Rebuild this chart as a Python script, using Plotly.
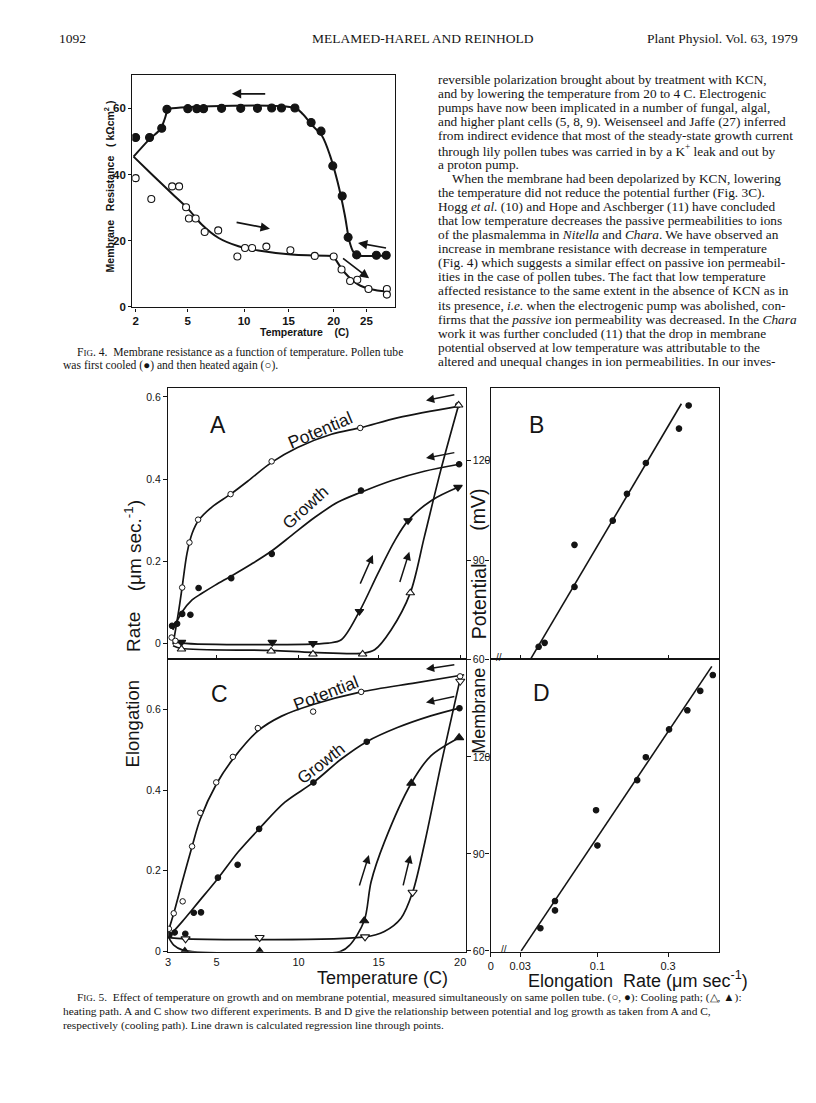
import numpy as np
import plotly.graph_objects as go

W, H = 816, 1103
INK = "#141414"
SERIF = "Liberation Serif, Times New Roman, serif"
SANS = "Liberation Sans, Arial, sans-serif"

# ---------------- Fig. 4 : membrane resistance vs temperature ----------------
F4_TICK_T = [2, 5, 10, 15, 20, 25]
F4_TICK_TEXT = ["2", "5", "10", "15", "20", "25"]
# temperature axis of the original is non-linear: scale anchors (axis definition)
F4_SCALE_T = [1, 2, 5, 10, 15, 20, 25, 30]
F4_SCALE_POS = [115.9, 133.3, 185.7, 242.3, 287.0, 332.3, 365.3, 398.3]

F4_COOL_T = [2.0, 2.8, 3.5, 3.8, 5.0, 5.8, 6.4, 8.0, 9.7, 11.5, 13.1, 14.2, 15.7,
             17.5, 18.6, 19.9, 21.3, 22.2, 23.5, 26.5, 28.0]
F4_COOL_R = [51.2, 51.2, 54.0, 59.7, 59.9, 59.9, 59.9, 60.0, 60.0, 60.0, 60.1, 60.1, 60.1,
             55.7, 53.1, 42.6, 33.5, 21.0, 15.7, 15.6, 15.6]
F4_HEAT_T = [2.0, 2.9, 4.1, 4.5, 4.9, 5.1, 5.7, 6.5, 7.7, 9.4, 10.1, 10.9, 12.5, 15.2,
             17.9, 20.0, 21.2, 22.5, 23.6, 25.3, 28.1, 28.1]
F4_HEAT_R = [38.9, 32.6, 36.4, 36.4, 30.1, 26.7, 26.7, 22.6, 23.1, 15.2, 17.8, 17.8, 18.2, 17.1,
             15.4, 15.2, 11.3, 7.8, 8.2, 5.4, 5.4, 3.7]
F4_COOL_CURVE_T = [1.88, 2.8, 3.43, 3.68, 3.87, 4.1, 15.7, 16.6, 17.5, 18.7, 19.6, 20.6, 21.7,
                   22.4, 23.0, 23.7, 28.1]
F4_COOL_CURVE_R = [45.4, 50.7, 53.7, 56.9, 59.7, 60.0, 60.1, 58.2, 55.2, 51.7, 45.7, 37.7, 27.7,
                   19.8, 16.6, 15.6, 15.5]
F4_HEAT_CURVE1_T = [1.88, 3.0, 4.1, 5.0, 6.26, 7.74, 9.5, 11.6, 15.3, 20.0]
F4_HEAT_CURVE1_R = [45.4, 39.7, 34.2, 29.7, 24.8, 20.8, 18.3, 17.0, 15.8, 15.4]
F4_HEAT_CURVE2_T = [20.15, 21.7, 23.7, 25.7, 28.1]
F4_HEAT_CURVE2_R = [14.8, 10.3, 6.8, 5.3, 4.6]
# arrows (tail T, tail R, head T, head R)
F4_ARROWS = [(12.54, 64.4, 8.91, 64.4), (9.2, 25.6, 12.9, 23.6),
             (28.2, 17.7, 23.7, 19.3), (21.2, 15.0, 25.4, 8.6)]

# ---------------- Fig. 5 ----------------
F5_TICK_T = [3, 5, 10, 15, 20]
F5_TICK_TEXT = ["3", "5", "10", "15", "20"]
F5_SCALE_T = [2, 3, 5, 10, 15, 20, 22]
F5_SCALE_POS = [141.75, 166.0, 214.5, 297.0, 377.5, 459.5, 492.3]

# Panel A
A_POT_COOL_T = [3.14, 3.30, 3.58, 3.88, 4.24, 5.86, 8.36, 13.85, 19.87]
A_POT_COOL_MV = [66.6, 65.6, 81.7, 95.3, 102.2, 109.9, 119.8, 129.9, 136.8]
A_POT_COOL_CURVE_T = [3.2, 3.44, 3.58, 3.78, 3.99, 4.26, 4.81, 5.86, 6.95, 8.36, 9.94, 12.05,
                      13.9, 16.2, 19.94]
A_POT_COOL_CURVE_MV = [64.5, 74.9, 81.9, 92.0, 98.0, 102.0, 106.0, 109.9, 114.0, 119.5, 124.0,
                       128.0, 130.0, 133.0, 136.5]
A_GRO_COOL_T = [3.16, 3.37, 3.58, 3.92, 4.26, 5.90, 8.37, 13.90, 19.93]
A_GRO_COOL_R = [0.043, 0.048, 0.072, 0.070, 0.135, 0.159, 0.218, 0.372, 0.436]
A_GRO_COOL_CURVE_T = [3.19, 3.58, 3.99, 4.40, 4.95, 5.94, 7.16, 8.36, 9.58, 11.02, 12.47, 13.9,
                      15.77, 17.8, 19.94]
A_GRO_COOL_CURVE_R = [0.033, 0.077, 0.106, 0.122, 0.142, 0.165, 0.194, 0.225, 0.263, 0.307,
                      0.344, 0.368, 0.396, 0.419, 0.436]
A_POT_HEAT_T = [3.55, 8.33, 10.9, 14.0, 16.94, 19.9]
A_POT_HEAT_MV = [63.1, 62.5, 61.6, 61.6, 80.1, 136.8]
A_POT_HEAT_CURVE_T = [3.2, 3.55, 8.33, 10.9, 14.1, 14.75, 15.76, 16.94, 17.8, 18.8, 19.9]
A_POT_HEAT_CURVE_MV = [64.1, 63.3, 62.7, 62.1, 61.9, 62.9, 68.9, 80.1, 97.0, 117.0, 136.8]
A_GRO_HEAT_T = [3.55, 8.40, 10.9, 13.8, 16.8, 19.86]
A_GRO_HEAT_R = [0.003, 0.003, 0.0, 0.078, 0.299, 0.380]
A_GRO_HEAT_CURVE_T = [3.23, 3.55, 11.84, 12.67, 13.8, 14.95, 16.0, 16.8, 18.24, 19.86]
A_GRO_HEAT_CURVE_R = [0.005, 0.001, 0.001, 0.009, 0.078, 0.170, 0.251, 0.299, 0.348, 0.380]
A_ARROWS = [(19.73, 0.606, 17.9, 0.591), (19.73, 0.465, 17.9, 0.451),
            (13.81, 0.142, 14.64, 0.215), (16.27, 0.146, 16.88, 0.223)]

# Panel B
B_RATE = [0.0400, 0.0439, 0.0699, 0.0699, 0.1268, 0.1582, 0.2123, 0.3557, 0.4135]
B_MV = [63.8, 65.0, 81.9, 94.6, 101.9, 110.0, 119.3, 129.7, 136.7]
B_LINE_RATE = [0.0352, 0.3693]
B_LINE_MV = [60.0, 137.2]

# Panel C
C_POT_COOL_T = [3.03, 3.23, 3.60, 3.99, 4.33, 4.99, 6.00, 7.52, 10.91, 13.91, 19.99]
C_POT_COOL_MV = [66.8, 71.6, 75.3, 92.3, 102.7, 112.1, 120.0, 128.9, 134.0, 140.1, 144.9]
C_POT_COOL_CURVE_T = [3.0, 3.23, 3.58, 3.99, 4.33, 5.0, 6.0, 7.52, 8.97, 10.91, 13.91, 17.26, 20.24]
C_POT_COOL_CURVE_MV = [65.9, 71.6, 81.3, 92.3, 100.8, 111.6, 119.3, 128.0, 132.6, 136.2, 140.1,
                       142.9, 145.4]
C_GRO_COOL_T = [3.05, 3.27, 3.71, 4.06, 4.36, 5.09, 6.29, 7.60, 10.93, 14.26, 19.95]
C_GRO_COOL_R = [0.041, 0.047, 0.044, 0.096, 0.097, 0.183, 0.215, 0.304, 0.419, 0.520, 0.603]
C_GRO_COOL_CURVE_T = [3.03, 3.58, 4.26, 5.09, 6.33, 7.6, 9.17, 10.93, 12.67, 14.26, 16.15, 18.19, 20.0]
C_GRO_COOL_CURVE_R = [0.037, 0.074, 0.123, 0.181, 0.247, 0.304, 0.370, 0.419, 0.477, 0.520,
                      0.555, 0.584, 0.604]
C_GRO_HEAT_T = [3.69, 7.63, 14.1, 17.0, 19.93]
C_GRO_HEAT_R = [0.0, 0.0, 0.076, 0.417, 0.530]
C_GRO_HEAT_CURVE_T = [3.0, 3.23, 3.58, 3.99, 12.6, 13.2, 14.1, 14.53, 15.35, 17.0, 18.2, 19.93]
C_GRO_HEAT_CURVE_R = [0.037, 0.016, 0.004, 0.0, 0.0, 0.016, 0.076, 0.173, 0.271, 0.417, 0.485, 0.530]
C_POT_HEAT_T = [3.72, 7.63, 14.15, 17.08, 20.0]
C_POT_HEAT_MV = [63.7, 64.1, 64.3, 78.1, 143.4]
C_POT_HEAT_CURVE_T = [3.0, 3.72, 14.15, 15.35, 16.37, 17.08, 17.83, 18.85, 20.03]
C_POT_HEAT_CURVE_MV = [64.1, 63.7, 64.3, 66.0, 70.1, 78.1, 93.6, 118.3, 144.9]
C_ARROWS = [(19.73, 0.711, 17.9, 0.700), (19.73, 0.633, 17.9, 0.617),
            (13.77, 0.160, 14.39, 0.239), (16.48, 0.160, 16.95, 0.239)]

# Panel D
D_RATE = [0.0411, 0.0516, 0.0516, 0.0978, 0.0999, 0.1856, 0.2123, 0.3048, 0.4052, 0.4955, 0.6024]
D_MV = [67.0, 72.5, 75.4, 103.5, 92.6, 112.8, 119.9, 128.5, 134.4, 140.4, 145.3]
D_LINE_RATE = [0.0305, 0.593]
D_LINE_MV = [60.0, 148.0]

LOG_TICKS = [0.03, 0.1, 0.3]
LOG_TICK_TEXT = ["0.03", "0.1", "0.3"]

# ---------------- page text ----------------
HEADER_LEFT = "1092"
HEADER_MID = "MELAMED-HAREL AND REINHOLD"
HEADER_RIGHT = "Plant Physiol. Vol. 63, 1979"
BODY_LINES = [
    "reversible polarization brought about by treatment with KCN,",
    "and by lowering the temperature from 20 to 4 C. Electrogenic",
    "pumps have now been implicated in a number of fungal, algal,",
    "and higher plant cells (5, 8, 9). Weisenseel and Jaffe (27) inferred",
    "from indirect evidence that most of the steady-state growth current",
    "through lily pollen tubes was carried in by a K<sup>+</sup> leak and out by",
    "a proton pump.",
    "When the membrane had been depolarized by KCN, lowering",
    "the temperature did not reduce the potential further (Fig. 3C).",
    "Hogg <i>et al.</i> (10) and Hope and Aschberger (11) have concluded",
    "that low temperature decreases the passive permeabilities to ions",
    "of the plasmalemma in <i>Nitella</i> and <i>Chara</i>. We have observed an",
    "increase in membrane resistance with decrease in temperature",
    "(Fig. 4) which suggests a similar effect on passive ion permeabil-",
    "ities in the case of pollen tubes. The fact that low temperature",
    "affected resistance to the same extent in the absence of KCN as in",
    "its presence, <i>i.e.</i> when the electrogenic pump was abolished, con-",
    "firms that the <i>passive</i> ion permeability was decreased. In the <i>Chara</i>",
    "work it was further concluded (11) that the drop in membrane",
    "potential observed at low temperature was attributable to the",
    "altered and unequal changes in ion permeabilities. In our inves-",
]
SC = "<span style='font-size:9px'>IG</span>"
FIG4_CAPTION = [
    "F" + SC + ". 4.  Membrane resistance as a function of temperature. Pollen tube",
    "was first cooled (●) and then heated again (○).",
]
FIG5_CAPTION = [
    "F" + SC + ". 5.  Effect of temperature on growth and on membrane potential, measured simultaneously on same pollen tube. (○, ●): Cooling path; (△, ▲):",
    "heating path. A and C show two different experiments. B and D give the relationship between potential and log growth as taken from A and C,",
    "respectively (cooling path). Line drawn is calculated regression line through points.",
]


def f4x(t):
    return np.interp(t, F4_SCALE_T, F4_SCALE_POS)


def f5x(t):
    return np.interp(t, F5_SCALE_T, F5_SCALE_POS)


fig = go.Figure()


def curve(x, y, xa, ya, width=1.7):
    fig.add_trace(go.Scatter(x=x, y=y, xaxis=xa, yaxis=ya, mode="lines",
                             line=dict(color=INK, width=width, shape="spline", smoothing=0.9),
                             hoverinfo="skip", showlegend=False))


def pts(x, y, xa, ya, symbol, size, lw=1.1):
    fig.add_trace(go.Scatter(x=x, y=y, xaxis=xa, yaxis=ya, mode="markers",
                             marker=dict(symbol=symbol, size=size, color=INK,
                                         line=dict(color=INK, width=lw)),
                             showlegend=False))


def open_pts(x, y, xa, ya, symbol, size, lw=1.1):
    fig.add_trace(go.Scatter(x=x, y=y, xaxis=xa, yaxis=ya, mode="markers",
                             marker=dict(symbol=symbol, size=size, color="white",
                                         line=dict(color=INK, width=lw)),
                             showlegend=False))


# Fig 4
curve(f4x(F4_COOL_CURVE_T), F4_COOL_CURVE_R, "x", "y", 2.0)
curve(f4x(F4_HEAT_CURVE1_T), F4_HEAT_CURVE1_R, "x", "y", 2.0)
curve(f4x(F4_HEAT_CURVE2_T), F4_HEAT_CURVE2_R, "x", "y", 2.0)
open_pts(f4x(F4_HEAT_T), F4_HEAT_R, "x", "y", "circle", 7)
pts(f4x(F4_COOL_T), F4_COOL_R, "x", "y", "circle", 8)

# Panel A
curve(f5x(A_POT_COOL_CURVE_T), A_POT_COOL_CURVE_MV, "x2", "y3")
curve(f5x(A_GRO_COOL_CURVE_T), A_GRO_COOL_CURVE_R, "x2", "y2")
curve(f5x(A_POT_HEAT_CURVE_T), A_POT_HEAT_CURVE_MV, "x2", "y3")
curve(f5x(A_GRO_HEAT_CURVE_T), A_GRO_HEAT_CURVE_R, "x2", "y2")
open_pts(f5x(A_POT_COOL_T), A_POT_COOL_MV, "x2", "y3", "circle", 5.5, 1.0)
pts(f5x(A_GRO_COOL_T), A_GRO_COOL_R, "x2", "y2", "circle", 5.5)
open_pts(f5x(A_POT_HEAT_T), A_POT_HEAT_MV, "x2", "y3", "triangle-up", 7.5)
pts(f5x(A_GRO_HEAT_T), A_GRO_HEAT_R, "x2", "y2", "triangle-down", 7.5)

# Panel B
curve(B_LINE_RATE, B_LINE_MV, "x3", "y4", 1.6)
pts(B_RATE, B_MV, "x3", "y4", "circle", 5.5)

# Panel C
curve(f5x(C_POT_COOL_CURVE_T), C_POT_COOL_CURVE_MV, "x4", "y6")
curve(f5x(C_GRO_COOL_CURVE_T), C_GRO_COOL_CURVE_R, "x4", "y5")
curve(f5x(C_GRO_HEAT_CURVE_T), C_GRO_HEAT_CURVE_R, "x4", "y5")
curve(f5x(C_POT_HEAT_CURVE_T), C_POT_HEAT_CURVE_MV, "x4", "y6")
open_pts(f5x(C_POT_COOL_T), C_POT_COOL_MV, "x4", "y6", "circle", 5.5, 1.0)
pts(f5x(C_GRO_COOL_T), C_GRO_COOL_R, "x4", "y5", "circle", 5.5)
pts(f5x(C_GRO_HEAT_T), C_GRO_HEAT_R, "x4", "y5", "triangle-up", 8)
open_pts(f5x(C_POT_HEAT_T), C_POT_HEAT_MV, "x4", "y6", "triangle-down", 8)

# Panel D
curve(D_LINE_RATE, D_LINE_MV, "x5", "y7", 1.6)
pts(D_RATE, D_MV, "x5", "y7", "circle", 5.5)


def dom_x(a, b):
    return [a / W, b / W]


def dom_y(top, bottom):
    return [1 - bottom / H, 1 - top / H]


TICK_FONT = dict(family=SANS, size=10.5, color=INK)


def axis(**kw):
    d = dict(showgrid=False, zeroline=False, showline=True, linecolor=INK, linewidth=1.4,
             ticks="outside", ticklen=4, tickwidth=1.2, tickcolor=INK, mirror=True,
             tickfont=TICK_FONT, fixedrange=True)
    d.update(kw)
    return d


F4_FONT = dict(family=SANS, size=11.5, color=INK, weight="bold")
LOG_LO, LOG_HI = -1.7228, -0.1751

fig.update_layout(
    width=W, height=H, margin=dict(l=0, r=0, t=0, b=0),
    paper_bgcolor="white", plot_bgcolor="rgba(0,0,0,0)", showlegend=False,
    xaxis=axis(domain=dom_x(130, 394), range=[130, 394], anchor="y",
               tickvals=list(f4x(F4_TICK_T)), ticktext=F4_TICK_TEXT, ticklen=3, tickfont=F4_FONT),
    yaxis=axis(domain=dom_y(75, 309), range=[-0.15, 70.2], anchor="x",
               tickvals=[0, 20, 40, 60], ticklen=3, tickfont=F4_FONT),
    xaxis2=axis(domain=dom_x(166, 465), range=[166, 465], anchor="y2",
                tickvals=list(f5x([5, 10, 15, 20])), showticklabels=False, ticks="inside"),
    yaxis2=axis(domain=dom_y(390, 663), range=[-0.0387, 0.6218], anchor="x2",
                tickvals=[0, 0.2, 0.4, 0.6], ticktext=["0", "0.2", "0.4", "0.6"]),
    yaxis3=axis(overlaying="y2", side="right", anchor="x2", range=[60, 142.0], showline=False,
                tickvals=[60, 90, 120], mirror=False),
    xaxis3=axis(type="log", domain=dom_x(490, 720), range=[LOG_LO, LOG_HI], anchor="y4",
                tickvals=LOG_TICKS, showticklabels=False, ticks="inside"),
    yaxis4=axis(domain=dom_y(390, 663), range=[60, 142.0], anchor="x3",
                tickvals=[60, 90, 120], showticklabels=False),
    xaxis4=axis(domain=dom_x(166, 465), range=[166, 465], anchor="y5",
                tickvals=list(f5x(F5_TICK_T)), ticktext=F5_TICK_TEXT, ticks="",
                tickfont=dict(family=SANS, size=11, color=INK)),
    yaxis5=axis(domain=dom_y(663, 957), range=[-0.0008, 0.724], anchor="x4",
                tickvals=[0, 0.2, 0.4, 0.6], ticktext=["0", "0.2", "0.4", "0.6"]),
    yaxis6=axis(overlaying="y5", side="right", anchor="x4", range=[59.7, 150.15], showline=False,
                tickvals=[60, 90, 120], mirror=False),
    xaxis5=axis(type="log", domain=dom_x(490, 720), range=[LOG_LO, LOG_HI], anchor="y7",
                tickvals=[10 ** (LOG_LO + 0.002)] + LOG_TICKS, ticktext=["0"] + LOG_TICK_TEXT,
                tickfont=dict(family=SANS, size=11, color=INK)),
    yaxis7=axis(domain=dom_y(663, 957), range=[59.7, 150.15], anchor="x5",
                tickvals=[60, 90, 120], showticklabels=False),
)

ann = []
PAD = 4  # annotation boxes add a little padding around the text


def text(x, y, s, size, family=SERIF, xanchor="left", angle=0, weight=None, yanchor="middle"):
    f = dict(family=family, size=size, color=INK)
    if weight:
        f["weight"] = weight
    if xanchor == "left":
        x -= PAD
    elif xanchor == "right":
        x += PAD
    ann.append(dict(x=x / W, y=1 - y / H, xref="paper", yref="paper", text=s, showarrow=False,
                    xanchor=xanchor, yanchor=yanchor, textangle=angle, font=f))


def arrow(xref, yref, x0, y0, x1, y1, width=1.5):
    ann.append(dict(x=x1, y=y1, ax=x0, ay=y0, xref=xref, yref=yref, axref=xref, ayref=yref,
                    text="", showarrow=True, arrowhead=2, arrowsize=1.1, arrowwidth=width,
                    arrowcolor=INK))


# header
text(58, 39, HEADER_LEFT, 13.5)
text(313, 39, HEADER_MID, 13.5)
text(797, 39, HEADER_RIGHT, 13.5, xanchor="right")
# body text column
for i, line in enumerate(BODY_LINES):
    text(452.7 if i == 7 else 439.3, 80 + i * 14.17, line, 13.3)
# captions
text(76, 354, FIG4_CAPTION[0], 11.6)
text(62.7, 367, FIG4_CAPTION[1], 11.6)
text(76, 1003, FIG5_CAPTION[0], 11.4)
text(62, 1017, FIG5_CAPTION[1], 11.4)
text(62, 1031, FIG5_CAPTION[2], 11.4)

# Fig 4 axis titles
text(107, 187, "Membrane   Resistance   ( kΩcm<sup>2</sup> )", 10.5, family=SANS, xanchor="center",
     angle=-90, weight="bold")
text(303, 334, "Temperature    (C)", 10.5, family=SANS, xanchor="center", weight="bold")
for t0, r0, t1, r1 in F4_ARROWS:
    arrow("x", "y", f4x(t0), r0, f4x(t1), r1, 1.7)

# Fig 5 labels
text(216, 427, "A", 23, family=SANS, xanchor="center")
text(536, 427, "B", 23, family=SANS, xanchor="center")
text(218, 698, "C", 23, family=SANS, xanchor="center")
text(541, 697, "D", 23, family=SANS, xanchor="center")
text(319, 432, "Potential", 17.5, family=SANS, xanchor="center", angle=-23)
text(304, 510, "Growth", 17, family=SANS, xanchor="center", angle=-42)
text(325, 697, "Potential", 17.5, family=SANS, xanchor="center", angle=-21)
text(320, 768, "Growth", 17, family=SANS, xanchor="center", angle=-38)
for t0, r0, t1, r1 in A_ARROWS:
    arrow("x2", "y2", f5x(t0), r0, f5x(t1), r1)
for t0, r0, t1, r1 in C_ARROWS:
    arrow("x4", "y5", f5x(t0), r0, f5x(t1), r1)

# Fig 5 axis titles
text(131, 635, "Rate", 19, family=SANS, xanchor="center", angle=-90)
text(131, 549, "(μm sec.<sup>-1</sup>)", 19, family=SANS, xanchor="center", angle=-90)
text(130, 728, "Elongation", 18.5, family=SANS, xanchor="center", angle=-90)
text(478, 605, "Potential", 19.5, family=SANS, xanchor="center", angle=-90)
text(478, 513, "(mV)", 19.5, family=SANS, xanchor="center", angle=-90)
text(478, 715, "Membrane", 18, family=SANS, xanchor="center", angle=-90)
text(381, 971, "Temperature (C)", 18, family=SANS, xanchor="center", yanchor="top")
text(638, 971, "Elongation  Rate (μm sec<sup>-1</sup>)", 18, family=SANS, xanchor="center",
     yanchor="top")
text(498, 661, "//", 10, family=SANS, xanchor="center")
text(503, 955, "//", 10, family=SANS, xanchor="center")

fig.update_layout(annotations=ann)
fig.write_html("out.html", config={"displayModeBar": False},
               post_script="document.body.style.margin='0px';")
